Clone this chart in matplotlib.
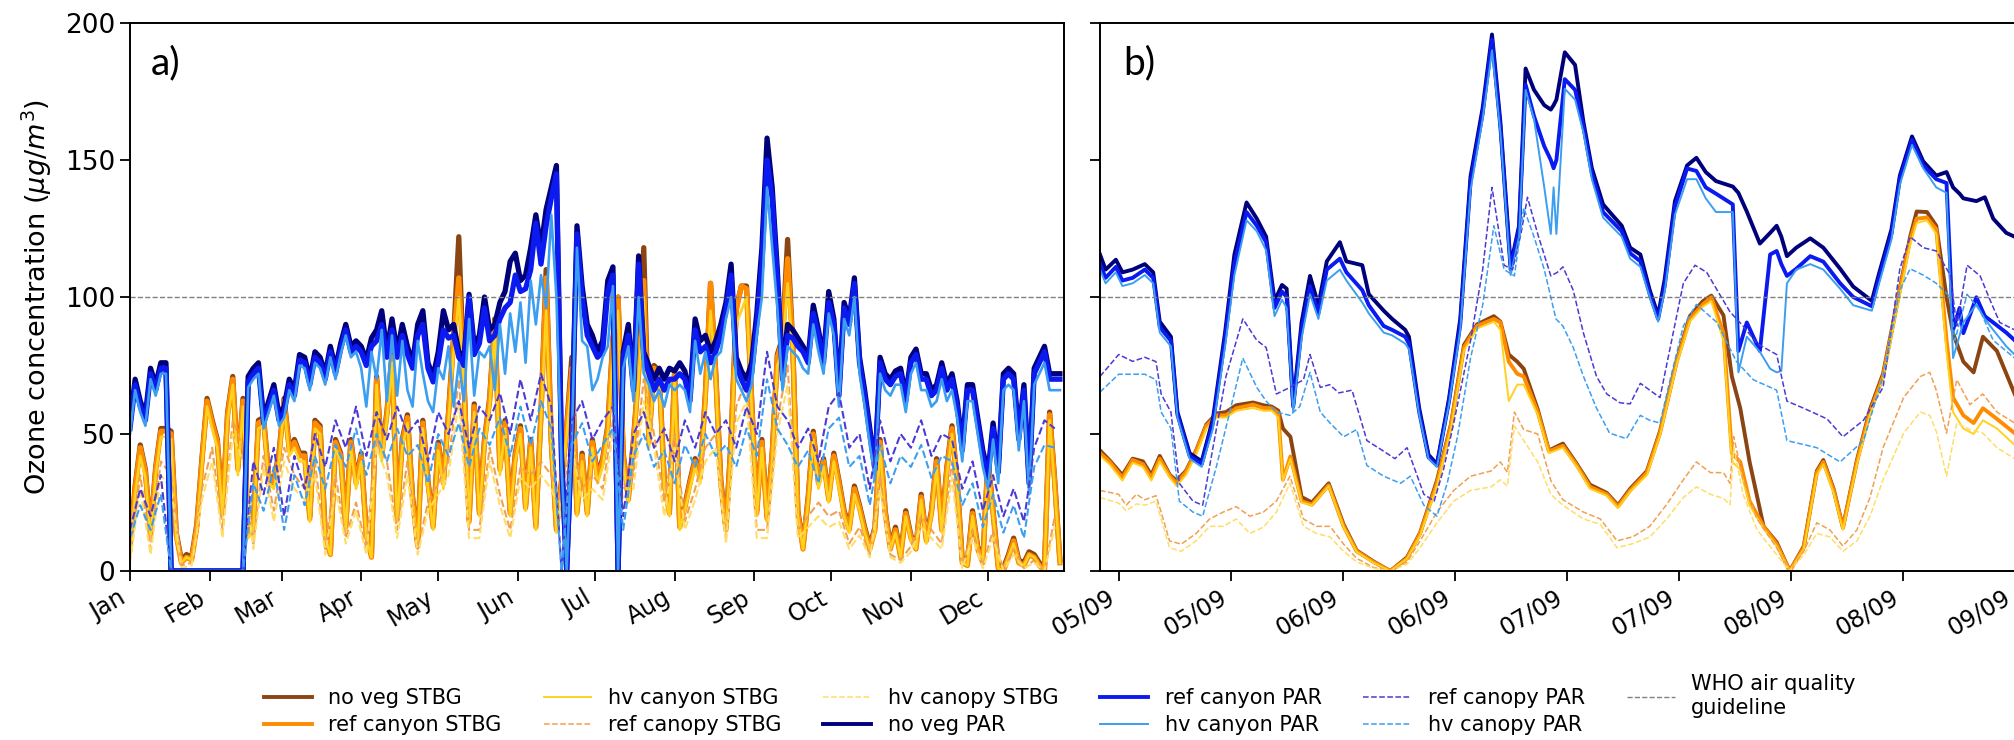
import numpy as np
import matplotlib.pyplot as plt

plt.rcParams['font.family'] = 'DejaVu Sans'

# ---------------- panel a: whole year ----------------
# solid series: one value every 2 days, dashed canopy series: every 4 days
days_a = np.arange(0, 364, 2)
days_a4 = np.arange(0, 364, 4)
month_days = [0, 31, 59, 90, 120, 151, 181, 212, 243, 273, 304, 334]
month_labels = ['Jan', 'Feb', 'Mar', 'Apr', 'May', 'Jun',
                'Jul', 'Aug', 'Sep', 'Oct', 'Nov', 'Dec']

nv_stbg_a = [9, 31, 46, 37, 14, 38, 52, 52, 51, 14, 4, 6, 5, 17, 41, 63, 55, 48, 22, 58,
             71, 38, 63, 14, 17, 55, 56, 35, 33, 43, 63, 45, 48, 43, 43, 20, 55, 53, 14, 7,
             48, 43, 17, 48, 33,
             43, 14, 6, 71, 43, 58, 79, 20, 48, 57, 27, 10, 55, 33, 17, 47, 33, 58, 86, 122,
             71, 19, 61, 22, 48, 63, 92, 38, 55, 22, 43, 53, 24, 48, 17, 58, 110, 48, 16, 33,
             53, 78, 22, 43, 22, 48,
             35, 41, 53, 85, 100, 43, 27, 48, 73, 118, 48, 75, 73, 33, 22, 73, 17, 24, 33, 41,
             35, 65, 105, 73, 33, 16, 48, 96, 104, 104, 63, 22, 48, 20, 43, 79, 85, 121, 83, 22,
             9, 27, 51, 33, 41, 27,
             43, 33, 22, 16, 31, 24, 16, 9, 16, 48, 22, 9, 16, 6, 22, 13, 9, 28, 12, 22,
             41, 16, 38, 53, 33, 4, 3, 22, 9, 4, 41, 22, 2, 1, 6, 12, 4, 3, 7, 6,
             3, 1, 58, 33, 4]
rc_stbg_a = [8, 30, 45, 36, 13, 37, 51, 51, 50, 13, 3, 5, 4, 16, 40, 62, 54, 47, 21, 57,
             70, 37, 62, 13, 16, 54, 55, 34, 32, 42, 62, 44, 47, 42, 42, 19, 54, 52, 13, 6,
             47, 42, 16, 47, 32,
             42, 13, 5, 70, 42, 57, 78, 19, 47, 56, 26, 9, 54, 32, 16, 46, 32, 57, 84, 107,
             70, 18, 60, 21, 47, 62, 91, 37, 54, 21, 42, 52, 23, 47, 16, 57, 107, 47, 15, 32,
             52, 74, 21, 42, 21, 47,
             34, 40, 52, 84, 100, 42, 26, 47, 72, 106, 47, 74, 72, 32, 21, 72, 16, 23, 32, 40,
             34, 64, 105, 72, 32, 15, 47, 95, 104, 103, 62, 21, 47, 19, 42, 78, 84, 114, 82, 21,
             8, 26, 50, 32, 40, 26,
             42, 32, 21, 15, 30, 23, 15, 8, 15, 47, 21, 8, 15, 5, 21, 12, 8, 27, 11, 21,
             40, 15, 37, 52, 32, 3, 2, 21, 8, 3, 40, 21, 1, 0, 5, 11, 3, 2, 6, 5,
             2, 0, 57, 32, 3]
hc_stbg_a = [7, 28, 42, 34, 12, 35, 49, 49, 48, 12, 3, 5, 4, 15, 38, 60, 52, 45, 20, 55,
             68, 35, 60, 12, 15, 52, 53, 32, 30, 40, 60, 42, 45, 40, 40, 18, 52, 50, 12, 6,
             45, 40, 15, 45, 30,
             40, 12, 5, 68, 40, 55, 76, 18, 45, 54, 25, 9, 52, 30, 15, 44, 30, 55, 80, 100,
             68, 17, 58, 20, 45, 60, 88, 35, 52, 20, 40, 50, 22, 45, 15, 55, 95, 45, 14, 30,
             50, 70, 20, 40, 20, 45,
             32, 38, 50, 80, 95, 40, 25, 45, 70, 100, 45, 72, 70, 30, 20, 70, 15, 22, 30, 38,
             32, 62, 95, 70, 30, 14, 45, 90, 95, 100, 60, 20, 45, 18, 40, 75, 80, 105, 80, 20,
             8, 25, 48, 30, 38, 25,
             40, 30, 20, 14, 28, 22, 14, 8, 14, 45, 20, 8, 14, 5, 20, 11, 8, 26, 10, 20,
             38, 14, 35, 50, 30, 3, 2, 20, 8, 3, 38, 20, 1, 0, 5, 10, 3, 2, 6, 5,
             2, 0, 55, 30, 3]
rcan_stbg_a = [5, 35, 8, 40, 35, 2, 3, 30, 45, 15, 55, 45, 10, 42, 22, 45, 35, 30, 40, 8,
               35, 12, 25, 8, 50, 40, 15, 40, 8, 25, 32, 40, 70, 15, 15, 45, 28, 15, 38, 35,
               40, 35, 25, 50, 30, 35, 30, 55, 30, 35, 70, 50, 25, 50, 18, 30, 45, 50, 12, 60,
               70, 15, 15, 55, 75, 15, 20, 25, 20, 22, 10, 16, 6, 35, 6, 4, 9, 20, 15, 10,
               40, 2, 15, 2, 15, 0, 8, 1, 4, 0, 20]
hcan_stbg_a = [3, 30, 6, 35, 30, 1, 2, 26, 40, 12, 50, 40, 8, 38, 18, 40, 30, 26, 35, 6,
               30, 10, 22, 6, 45, 35, 12, 35, 6, 22, 28, 35, 62, 12, 12, 40, 24, 12, 34, 30,
               35, 30, 20, 45, 26, 30, 26, 50, 26, 30, 62, 45, 20, 45, 15, 26, 40, 45, 10, 54,
               62, 12, 12, 50, 68, 12, 16, 20, 16, 18, 8, 13, 5, 30, 5, 3, 7, 16, 12, 8,
               34, 1, 12, 1, 12, 0, 6, 1, 3, 0, 16]
nv_par_a = [54, 70, 62, 57, 74, 68, 76, 76, 0, 0, 0, 0, 0, 0, 0, 0, 0, 0, 0, 0,
            0, 0, 0, 71, 74, 76, 56, 62, 68, 57, 60, 70, 66, 79, 78, 70, 80, 78, 72, 82,
            74, 83, 90, 82, 84,
            82, 77, 85, 88, 95, 80, 92, 80, 90, 82, 76, 90, 95, 76, 71, 80, 95, 88, 90, 80,
            78, 101, 82, 86, 100, 88, 90, 98, 102, 113, 116, 106, 108, 118, 130, 118, 132, 140, 148, 42,
            0, 52, 126, 104, 90, 86,
            80, 84, 106, 111, 0, 80, 90, 68, 115, 80, 75, 70, 74, 70, 74, 73, 76, 73, 64, 92,
            84, 86, 80, 84, 90, 98, 112, 78, 73, 70, 76, 94, 118, 158, 140, 110, 73, 90, 88, 85,
            82, 78, 97, 88, 78, 102,
            92, 66, 98, 92, 107, 78, 66, 52, 38, 78, 72, 70, 73, 74, 64, 78, 81, 72, 72, 66,
            68, 76, 68, 72, 62, 46, 68, 68, 56, 44, 36, 54, 38, 72, 74, 72, 50, 68, 34, 74,
            78, 82, 72, 72, 72]
rc_par_a = [52, 68, 60, 55, 72, 66, 74, 74, 0, 0, 0, 0, 0, 0, 0, 0, 0, 0, 0, 0,
            0, 0, 0, 69, 72, 74, 54, 60, 66, 55, 58, 68, 64, 77, 76, 68, 78, 76, 70, 80,
            72, 81, 88, 80, 82,
            80, 75, 82, 84, 90, 78, 88, 78, 86, 79, 74, 86, 90, 74, 69, 76, 88, 85, 86, 78,
            75, 100, 79, 83, 96, 84, 86, 92, 96, 98, 108, 102, 103, 110, 127, 112, 126, 136, 145, 40,
            0, 50, 123, 100, 86, 82,
            78, 80, 102, 108, 0, 78, 86, 66, 112, 78, 72, 66, 70, 66, 70, 70, 72, 70, 62, 88,
            80, 82, 76, 80, 86, 95, 108, 75, 70, 66, 72, 90, 112, 150, 136, 106, 70, 86, 85, 82,
            80, 76, 94, 86, 76, 98,
            90, 64, 96, 90, 105, 76, 64, 50, 37, 76, 70, 68, 71, 72, 62, 76, 79, 70, 70, 64,
            66, 74, 66, 70, 60, 44, 66, 66, 54, 42, 34, 52, 36, 70, 72, 70, 48, 66, 32, 72,
            76, 80, 70, 70, 70]
hc_par_a = [50, 66, 58, 53, 70, 64, 72, 72, 0, 0, 0, 0, 0, 0, 0, 0, 0, 0, 0, 0,
            0, 0, 0, 67, 70, 72, 52, 58, 64, 53, 56, 66, 62, 75, 74, 66, 76, 74, 68, 78,
            70, 79, 86, 78, 80,
            74, 60, 80, 70, 88, 62, 86, 64, 84, 66, 60, 84, 72, 62, 58, 74, 70, 82, 60, 76,
            62, 92, 64, 80, 78, 82, 66, 90, 72, 94, 80, 98, 76, 106, 90, 108, 96, 130, 100, 38,
            0, 48, 118, 84, 82, 66,
            70, 78, 82, 104, 0, 74, 82, 62, 100, 72, 68, 62, 66, 60, 68, 66, 68, 66, 58, 84,
            72, 80, 70, 78, 80, 92, 100, 70, 66, 62, 68, 86, 100, 140, 118, 96, 66, 82, 80, 78,
            74, 72, 90, 80, 72, 94,
            86, 60, 92, 86, 100, 72, 60, 46, 34, 72, 66, 64, 68, 68, 58, 72, 76, 66, 66, 60,
            62, 70, 62, 66, 56, 40, 62, 62, 50, 38, 30, 48, 32, 66, 68, 66, 44, 62, 28, 68,
            72, 76, 66, 66, 66]
rcan_par_a = [15, 30, 20, 35, 0, 0, 0, 0, 0, 0, 0, 0, 40, 28, 45, 20, 42, 30, 50, 38,
              55, 45, 60, 42, 58, 48, 60, 50, 55, 40, 58, 50, 62, 45, 60, 55, 65, 50, 70, 55,
              72, 60, 0, 55, 62, 48, 55, 60, 20, 50, 58, 45, 52, 40, 55, 45, 58, 50, 55, 45,
              60, 50, 80, 60, 55, 45, 52, 40, 60, 65, 45, 50, 30, 55, 40, 50, 45, 55, 42, 50,
              48, 30, 40, 22, 35, 20, 30, 18, 45, 55, 52]
hcan_par_a = [12, 24, 15, 28, 0, 0, 0, 0, 0, 0, 0, 0, 32, 22, 38, 15, 35, 24, 42, 30,
              46, 38, 52, 35, 50, 40, 52, 42, 46, 32, 50, 42, 54, 38, 52, 46, 56, 42, 60, 46,
              62, 52, 0, 46, 54, 40, 46, 52, 15, 42, 50, 38, 44, 32, 46, 38, 50, 42, 46, 38,
              52, 42, 70, 52, 46, 38, 44, 32, 52, 56, 38, 42, 24, 46, 32, 42, 38, 46, 34, 42,
              40, 24, 32, 16, 28, 14, 24, 12, 38, 46, 45]

# ---------------- panel b: 5-9 September ----------------
# hours counted from 05/09 00:00
tick_hours_b = [0, 12, 24, 36, 48, 60, 72, 84, 96]
tick_labels_b = ['05/09', '05/09', '06/09', '06/09', '07/09',
                 '07/09', '08/09', '08/09', '09/09']

stbg_hours_b = [-2, -1.0, 0.4, 1.5, 2.6, 3.5, 4.4, 5.5, 6.2, 7.2,
                8.3, 9.4, 10.5, 11.5, 12.6, 14.4, 15.5, 16.4, 17.1, 17.6,
                18.4, 19.6, 20.7, 22.5, 24.1, 25.5, 27.3, 29.1, 30.9, 32.3,
                34.1, 35.6, 37.0, 38.4, 40.2, 40.9, 41.8, 42.7, 43.4, 44.9,
                46.1, 47.6, 49.1, 50.5, 52.3, 53.5, 54.8, 56.6, 58.0, 59.8,
                61.2, 62.6, 63.5, 64.8, 65.7, 66.6, 67.6, 69.1, 70.5, 71.9,
                73.4, 74.8, 75.5, 76.6, 77.6, 79.1, 80.5, 81.9, 83.4, 84.8,
                85.5, 86.6, 87.6, 88.7, 89.4, 90.5, 91.6, 92.6, 94.1, 96.0]
nv_stbg_b = [44, 40.5, 35, 41, 40, 35, 42, 35, 33, 36.5,
             44, 53.5, 57.5, 58, 60.5, 61.5, 60.5, 60, 58.5, 52,
             49, 27, 25, 32, 17, 7.5, 3.5, 0, 5, 14,
             33, 53.5, 82.5, 90, 93, 91, 79, 76.4, 73.8, 59,
             44, 46.5, 39, 31.5, 28.5, 24, 30, 36.5, 51, 77,
             93, 98.5, 100.5, 93.3, 71, 59.4, 39.8, 16.3, 10.5, 0,
             9, 36.5, 40.5, 30, 16, 40.5, 59, 72, 98, 122,
             131.2, 131, 126, 100, 86.8, 76.4, 72.5, 85.5, 80.3, 64.6]
rc_stbg_b = [43, 40, 34, 40.5, 39, 34, 41, 34.6, 32, 36,
             43.7, 53, 56.8, 56.8, 59.4, 60.7, 59.5, 59.4, 57.5, 33.3,
             41.8, 25.5, 24.2, 31.3, 16.3, 7.2, 3.3, 0, 4.6, 13.7,
             32, 53, 81.6, 89.4, 92, 90.7, 76.4, 72, 71, 58,
             43.7, 45.7, 38.5, 30.7, 28, 23.5, 29.4, 35.9, 50.3, 76.4,
             92, 97.3, 99.9, 86.8, 43, 39.8, 25.5, 16.3, 9.8, 0,
             8.5, 35.9, 39.8, 29.4, 15.7, 39.8, 58, 71, 97.3, 120.8,
             128.6, 129, 124.7, 84.2, 63.3, 56.8, 54, 59.4, 55.5, 50.3]
hc_stbg_b = [42, 39, 33, 39.5, 38, 33, 40, 34, 31, 35,
             42.5, 52, 56, 56, 58.5, 59.5, 58.5, 58.5, 56, 33,
             41, 25, 24, 31, 16, 7, 3, 0, 4.5, 13,
             31, 52, 80.5, 88.5, 91, 88, 62, 68, 68, 57,
             43, 45, 38, 30, 27.5, 23, 29, 35, 49.5, 75.5,
             91, 96.5, 98.5, 84, 40, 37, 24, 15.5, 9, 0,
             8, 35, 39, 28.5, 15, 39, 57, 70, 96, 119,
             127, 128, 123, 80, 58, 52, 50, 55, 52, 46]

canopy_stbg_hours_b = [-2, 0, 0.8, 1.9, 2.8, 4.0, 4.55, 5.45, 6.7, 8.3,
                       9.75, 11.2, 12.6, 14.05, 15.5, 16.9, 18.35, 19.8, 21.2, 22.65,
                       24.1, 25.5, 27.3, 29.1, 30.9, 32.3, 34.1, 35.9, 37.7, 39.9,
                       40.9, 41.65, 42.4, 43.4, 44.9, 46.3, 47.6, 49.8, 51.6, 53.4,
                       55.1, 56.9, 58.7, 60.5, 61.9, 63.4, 64.8, 65.5, 65.9, 66.9,
                       68.4, 70.5, 71.9, 73.4, 74.8, 76.2, 77.6, 79.1, 80.5, 81.9,
                       84.1, 85.9, 86.9, 87.6, 88.7, 89.8, 91.2, 92.6, 94.1, 96.0]
rcan_stbg_b = [29.4, 28, 24, 28, 26, 27.5, 21.5, 11, 9.8, 13.7,
               19, 21.5, 23.5, 20, 21.5, 25.5, 34.6, 19, 16.3, 16.3,
               9.8, 4.6, 1.3, 0, 3.3, 11, 21.5, 29.4, 34.6, 36.5,
               39.8, 36, 58, 51.6, 50, 33, 26, 21.5, 19, 11,
               12.5, 16.3, 24.2, 33.3, 39.8, 35.9, 35.9, 32, 49, 33.3,
               19, 8.5, 0, 7.2, 17.6, 15, 9.1, 15, 26.8, 45,
               63.3, 71, 72.5, 66, 50.3, 69.8, 60.7, 64.6, 58, 54]
hcan_stbg_b = [26.8, 24.8, 22, 24.5, 24, 25.5, 19, 8.5, 7.2, 11,
               16.3, 16.3, 19, 13.7, 16, 21.5, 32, 16.3, 13.7, 12.4,
               7.2, 3.3, 1, 0, 2.5, 8.5, 17.6, 25.5, 29.4, 30.7,
               33.3, 31, 52.9, 47.6, 39.8, 28, 24, 19, 17, 8.5,
               10, 12.4, 19, 26.8, 30.7, 28, 26.5, 24.2, 45, 28,
               15, 5.9, 0, 5.9, 13.7, 12.4, 7.2, 11, 20, 33.3,
               50.3, 58, 56.8, 51, 34.6, 54, 51.6, 50.3, 45, 41]

par_hours_b = [-2, -1.4, -0.3, 0.4, 1.5, 2.8, 3.7, 4.4, 5.6, 6.3,
               7.6, 8.9, 10.1, 11.4, 12.4, 13.7, 14.8, 15.8, 16.7, 17.5,
               18.0, 18.7, 19.6, 20.5, 21.4, 22.3, 23.7, 24.4, 26.1, 26.8,
               28.4, 29.3, 30.7, 31.1, 32.2, 33.2, 34.1, 35.4, 36.6, 37.7,
               39.0, 40.0, 40.9, 42.0, 42.9, 43.6, 44.5, 45.6, 46.3, 46.6,
               46.9, 47.8, 48.9, 49.8, 50.7, 51.9, 53.9, 54.8, 55.9, 56.9,
               57.8, 58.5, 59.6, 60.9, 61.9, 62.9, 64.0, 65.8, 66.4, 67.3,
               68.7, 69.8, 70.5, 71.0, 71.6, 72.6, 74.1, 75.5, 77.3, 78.7,
               80.7, 81.4, 82.8, 83.7, 85.0, 86.2, 87.6, 88.7, 89.4, 90.1,
               90.5, 91.9, 92.8, 93.7, 95.1, 96.0]
nv_par_b = [115.5, 110, 113.6, 109, 110, 112, 109, 91, 85.5, 58,
            43, 40, 55.5, 87, 115.5, 134.5, 128.6, 122, 98.6, 104.4,
            103, 60.7, 90.7, 107.7, 97, 113, 120, 113, 111.6, 101,
            95, 92, 88, 85.5, 59.4, 42.4, 39, 63, 92, 144,
            169, 195.8, 163.8, 111.6, 126, 183.4, 175.6, 170, 168.4, 170,
            172, 189.3, 184.7, 163.8, 147, 133.8, 126, 118, 115.5, 102.5,
            93.3, 106.4, 135, 148, 150.8, 145.6, 142.3, 140.3, 138, 131.2,
            119.5, 123.4, 126, 122, 114.9, 118, 121.4, 118, 110.3, 103.8,
            98.6, 107.7, 124.7, 144.3, 158.6, 149.5, 144.3, 145.6, 140, 137.7,
            136, 135, 136.4, 128.6, 123.4, 122]
rc_par_b = [112, 107, 111, 106, 107, 110, 107, 89, 84, 57,
            42, 39, 54, 85, 112, 131, 126, 120, 96, 102,
            100, 60, 88, 104, 94, 110, 114, 109, 102.5, 97,
            89.4, 88, 85.5, 83, 58, 41.5, 38.5, 62, 90, 142,
            167, 193.9, 162, 110, 125, 177.5, 166, 155, 150, 147,
            150, 179.5, 175.6, 162, 145, 131, 124, 116, 113, 101,
            92, 104, 133, 146.9, 146, 140, 137.7, 133.8, 80.3, 90.7,
            80.3, 115.5, 116.8, 112, 107.7, 110.3, 114.9, 112.9, 105, 100,
            96.6, 106, 123, 143, 157.3, 148, 143, 141.6, 88, 96,
            86.8, 99.9, 93, 90.7, 87, 84.2]
hc_par_b = [110, 105, 109, 104, 105, 108, 105, 87, 82, 56,
            41, 38, 52, 82, 108, 128, 124, 117, 93, 99,
            96, 58, 85, 101, 92, 106, 110, 106, 98, 94,
            87, 86, 83, 81, 57, 41, 38, 61, 88, 139,
            165, 190, 160, 108, 122, 175.6, 165, 140, 123, 140,
            123, 176, 172, 160, 143, 129, 122, 114, 111, 100,
            91, 102, 130, 143, 143, 136, 131, 131, 72.5, 85.5,
            80, 73.8, 72.5, 73, 105, 110, 112, 110, 103, 97,
            95, 104, 121, 141, 155.5, 147, 140, 138, 77.7, 86,
            90.7, 97.3, 92, 88, 82, 79]

rcan_par_hours_b = [-2, 0, 1.5, 2.8, 4.0, 4.55, 5.6, 6.5, 7.96, 9.0,
                    10.1, 11.5, 13.3, 14.8, 15.8, 16.9, 18.35, 19.8, 20.5, 21.6,
                    22.6, 23.6, 25.0, 26.6, 28.4, 29.6, 30.9, 32.0, 32.7, 33.8,
                    34.8, 35.9, 37.7, 39.0, 40.0, 41.3, 42.2, 43.1, 43.8, 44.9,
                    46.3, 47.0, 47.6, 48.7, 49.8, 51.2, 52.3, 53.7, 54.8, 55.9,
                    56.9, 58.0, 58.7, 60.5, 61.75, 63.0, 65.5, 66.9, 68.4, 70.5,
                    71.6, 73.4, 75.9, 77.6, 79.8, 81.9, 83.7, 84.8, 86.2, 87.6,
                    89.1, 89.8, 90.9, 92.3, 93.4, 94.4, 96.0]
rcan_par_b = [71, 79, 76.5, 78, 76.4, 64.6, 58, 32, 25.5, 24,
              45, 71, 92, 84.2, 81.6, 64.6, 67, 69.8, 79, 67,
              68, 65, 66, 47.6, 43.7, 41, 45, 34.6, 28, 25.5,
              37, 54, 84, 110, 140, 111.6, 110, 123, 136.4, 123,
              107.7, 109, 111, 102.5, 86.8, 71, 64.6, 61.4, 61, 68.5,
              66, 63.3, 75, 105, 111.6, 109, 94.6, 89.4, 83, 79,
              62, 59.4, 55.5, 49, 55, 67, 110.3, 122, 118, 116.8,
              108, 89.4, 111.6, 107.7, 98.6, 90.7, 88]
hcan_par_hours_b = [-2, 0, 2.8, 4.0, 4.55, 5.6, 6.5, 7.96, 9.0, 10.5,
                    11.9, 13.3, 14.8, 15.8, 16.9, 18.35, 19.4, 20.5, 21.6, 22.65,
                    24.1, 25.5, 26.6, 28.4, 30.2, 31.25, 32.7, 34.1, 35.2, 36.3,
                    37.7, 39.0, 40.2, 41.3, 42.4, 43.4, 44.5, 45.6, 46.85, 47.6,
                    48.7, 49.8, 51.2, 52.6, 54.4, 55.9, 56.9, 58.0, 59.1, 60.5,
                    61.9, 64.1, 66.2, 68.0, 70.5, 71.6, 74.8, 77.3, 79.8, 81.9,
                    83.7, 84.8, 86.2, 87.6, 89.1, 89.6, 90.9, 92.3, 93.7, 96.0]
hcan_par_b = [65.3, 71.8, 71.8, 69.8, 58, 52, 25.5, 21.5, 20, 38.5,
              58, 77.7, 67, 62, 58, 56.8, 60, 72.5, 58, 54,
              49, 51.6, 38.5, 34.6, 32, 34.6, 24, 20, 32, 49,
              77.7, 97, 126, 110, 107.7, 132.5, 122, 110, 92, 89.4,
              81.6, 71, 59.4, 50.3, 48.3, 56.8, 55, 54, 70, 89.4,
              97.3, 90.7, 76.4, 69.8, 66, 47.6, 45, 39.8, 47.6, 71,
              102.5, 110.3, 108, 105, 100, 84.2, 101, 95, 84.2, 77.7]

# label, colour, linestyle, linewidth
styles = [
    ('no veg STBG', '#8B4513', '-', 2.8),
    ('ref canyon STBG', '#FF8C00', '-', 2.8),
    ('hv canyon STBG', '#FFD21F', '-', 1.4),
    ('ref canopy STBG', '#F0A050', '--', 1.1),
    ('hv canopy STBG', '#FFDD66', '--', 1.1),
    ('no veg PAR', '#00007A', '-', 2.8),
    ('ref canyon PAR', '#0A1AF0', '-', 2.8),
    ('hv canyon PAR', '#3C9EF0', '-', 1.4),
    ('ref canopy PAR', '#4A3AD6', '--', 1.1),
    ('hv canopy PAR', '#3C9EF0', '--', 1.1),
]
series_a = [(days_a, nv_stbg_a), (days_a, rc_stbg_a), (days_a, hc_stbg_a),
            (days_a4, rcan_stbg_a), (days_a4, hcan_stbg_a),
            (days_a, nv_par_a), (days_a, rc_par_a), (days_a, hc_par_a),
            (days_a4, rcan_par_a), (days_a4, hcan_par_a)]
series_b = [(stbg_hours_b, nv_stbg_b), (stbg_hours_b, rc_stbg_b), (stbg_hours_b, hc_stbg_b),
            (canopy_stbg_hours_b, rcan_stbg_b), (canopy_stbg_hours_b, hcan_stbg_b),
            (par_hours_b, nv_par_b), (par_hours_b, rc_par_b), (par_hours_b, hc_par_b),
            (rcan_par_hours_b, rcan_par_b), (hcan_par_hours_b, hcan_par_b)]

fig = plt.figure(figsize=(20.15, 7.4), dpi=100)
ax1 = fig.add_axes([130 / 2015, 169 / 740, 934 / 2015, 548 / 740])
ax2 = fig.add_axes([1100 / 2015, 169 / 740, 924 / 2015, 548 / 740])

for (label, color, ls, lw), (xa, ya), (xb, yb) in zip(styles, series_a, series_b):
    # the year panel is denser, so its lines are drawn a bit heavier
    ax1.plot(xa, ya, color=color, ls=ls, lw=lw * 1.35)
    ax2.plot(xb, yb, color=color, ls=ls, lw=lw, label=label)

for ax in (ax1, ax2):
    ax.axhline(100, color='grey', ls='--', lw=1, label='WHO air quality\nguideline')
    ax.set_ylim(0, 200)
    ax.set_yticks([0, 50, 100, 150, 200])
    ax.tick_params(direction='out', length=7, width=1.3, labelsize=19)
    for sp in ax.spines.values():
        sp.set_linewidth(1.4)

ax1.set_xlim(0, 363.6)
ax1.set_xticks(month_days)
ax1.set_xticklabels(month_labels, rotation=30, ha='right', fontsize=17)
ax1.set_ylabel('Ozone concentration ($\\mu g/m^3$)', fontsize=19.5, labelpad=8)
ax1.text(0.022, 0.96, 'a)', transform=ax1.transAxes, fontsize=28, va='top', family='Lato')

ax2.set_xlim(-2, 97)
ax2.set_xticks(tick_hours_b)
ax2.set_xticklabels(tick_labels_b, rotation=30, ha='right', fontsize=17)
ax2.set_yticklabels([])
ax2.text(0.025, 0.96, 'b)', transform=ax2.transAxes, fontsize=28, va='top', family='Lato')

handles, labels = ax2.get_legend_handles_labels()
fig.legend(handles, labels, loc='upper center', bbox_to_anchor=(0.526, 0.100), ncol=6,
           frameon=False, fontsize=15, handlelength=2.3, handletextpad=0.8,
           columnspacing=2.0, labelspacing=0.35, borderaxespad=0)

fig.savefig('out.png', dpi=100)
